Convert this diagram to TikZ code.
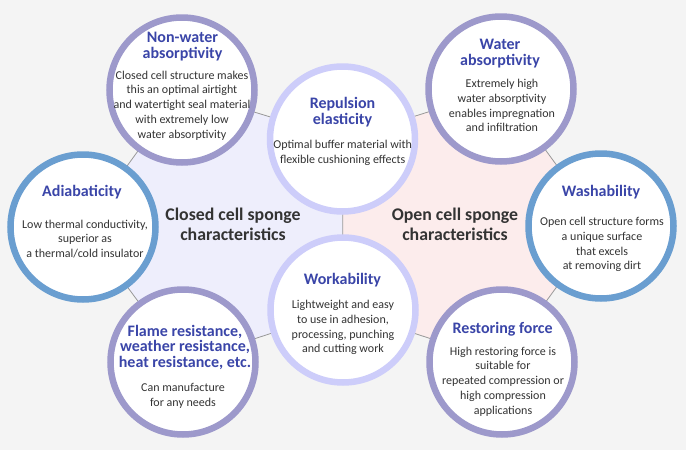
\documentclass[tikz,border=0pt]{standalone}
\usepackage{fontspec}
\setmainfont{Carlito}
\definecolor{bgc}{HTML}{F4F4F4}
\definecolor{leftc}{HTML}{EEEEFC}
\definecolor{rightc}{HTML}{FCECEC}
\definecolor{ringp}{HTML}{9D99CB}
\definecolor{ringb}{HTML}{6A9ED0}
\definecolor{ringl}{HTML}{CDCDFA}
\definecolor{titlec}{HTML}{3A45A8}
\definecolor{bodyc}{HTML}{333333}
\definecolor{edgec}{HTML}{999999}
\pgfdeclarelayer{bglayer}
\pgfdeclarelayer{filllayer}
\pgfsetlayers{bglayer,filllayer,main}
\tikzset{
  ring/.style={circle, minimum size=145pt, inner sep=0pt, fill=white, draw=#1, line width=6.5pt},
  ttl/.style={text=titlec, align=center, inner sep=0pt, font=\fontsize{16}{15.5}\selectfont\bfseries},
  bdy/.style={text=bodyc, align=center, inner sep=0pt, font=\fontsize{12}{14.8}\selectfont},
  center label/.style={text=bodyc, align=center, inner sep=0pt, font=\fontsize{17.8}{20}\selectfont\bfseries},
  edge line/.style={draw=edgec, line width=0.8pt}
}
\begin{document}
\begin{tikzpicture}[x=1pt,y=-1pt]
\useasboundingbox (0,0) rectangle (686,450);
\begin{pgfonlayer}{bglayer}
\fill[bgc] (0,0) rectangle (686,450);
\end{pgfonlayer}
% circles
\node[ring=ringp] (nw) at (182,90) {};
\node[ring=ringl] (re) at (342.5,139) {};
\node[ring=ringp] (wa) at (501,89) {};
\node[ring=ringb] (ad) at (83,227) {};
\node[ring=ringb] (ws) at (601,226) {};
\node[ring=ringl] (wo) at (343,310) {};
\node[ring=ringp] (fl) at (183,362) {};
\node[ring=ringp] (rs) at (502,362) {};
% region fills and connectors
\begin{pgfonlayer}{filllayer}
\fill[leftc] (nw.center) -- (re.center) -- (wo.center) -- (fl.center) -- (ad.center) -- cycle;
\fill[rightc] (re.center) -- (wa.center) -- (ws.center) -- (rs.center) -- (wo.center) -- cycle;
\draw[edge line] (nw.center) -- (re.center);
\draw[edge line] (re.center) -- (wo.center);
\draw[edge line] (wo.center) -- (fl.center);
\draw[edge line] (fl.center) -- (ad.center);
\draw[edge line] (ad.center) -- (nw.center);
\draw[edge line] (re.center) -- (wa.center);
\draw[edge line] (wa.center) -- (ws.center);
\draw[edge line] (ws.center) -- (rs.center);
\draw[edge line] (rs.center) -- (wo.center);
\end{pgfonlayer}
% center labels
\node[center label] (closedlbl) at (233,224) {Closed cell sponge\\characteristics};
\node[center label] (openlbl) at (455,224) {Open cell sponge\\characteristics};
% texts
\node[ttl] (nwt) at (182.5,46.5) {Non-water\\absorptivity};
\node[bdy] (nwb) at (182,105.5) {Closed cell structure makes\\this an optimal airtight\\and watertight seal material\\with extremely low\\water absorptivity};
\node[ttl] (ret) at (342.5,112) {Repulsion\\elasticity};
\node[bdy] (reb) at (342.7,153) {Optimal buffer material with\\flexible cushioning effects};
\node[ttl] (wat) at (500,53.5) {Water\\absorptivity};
\node[bdy] (wab) at (502,105.5) {Extremely high\\water absorptivity\\enables impregnation\\and infiltration};
\node[ttl] (adt) at (82,192) {Adiabaticity};
\node[bdy] (adb) at (85,239) {Low thermal conductivity,\\superior as\\a thermal/cold insulator};
\node[ttl] (wst) at (601,192) {Washability};
\node[bdy] (wsb) at (602,244.5) {Open cell structure forms\\a unique surface\\that excels\\at removing dirt};
\node[ttl] (wot) at (342.5,280) {Workability};
\node[bdy] (wob) at (343,327.5) {Lightweight and easy\\to use in adhesion,\\processing, punching\\and cutting work};
\node[ttl] (flt) at (185,347) {Flame resistance,\\weather resistance,\\heat resistance, etc.};
\node[bdy] (flb) at (183,395.5) {Can manufacture\\for any needs};
\node[ttl] (rst) at (502.7,329) {Restoring force};
\node[bdy] (rsb) at (503,381.5) {High restoring force is\\suitable for\\repeated compression or\\high compression\\applications};
\end{tikzpicture}
\end{document}
